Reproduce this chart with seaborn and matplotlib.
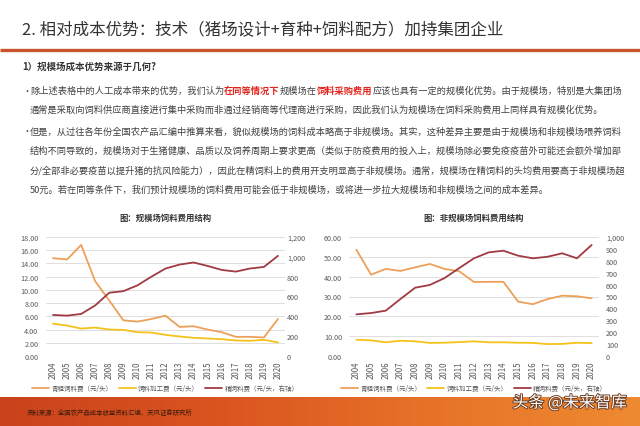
import matplotlib
matplotlib.use('Agg')
import matplotlib.pyplot as plt
import matplotlib.ticker as mtick
import matplotlib.patheffects as pe
from matplotlib.colors import LinearSegmentedColormap
from matplotlib.font_manager import FontProperties
import numpy as np
import seaborn as sns

# ---- data ----
years = ['2004', '2005', '2006', '2007', '2008', '2009', '2010', '2011', '2012',
         '2013', '2014', '2015', '2016', '2017', '2018', '2019', '2020']

# 规模场 (left chart)
large_rough = [14.8, 14.6, 16.8, 11.3, 8.4, 5.4, 5.2, 5.6, 6.1, 4.4, 4.5, 4.0, 3.6, 2.9, 2.9, 2.8, 5.6]
large_process = [4.9, 4.6, 4.15, 4.3, 4.0, 3.95, 3.6, 3.55, 3.2, 2.95, 2.75, 2.65, 2.55, 2.35, 2.3, 2.45, 2.05]
large_conc = [414, 407, 424, 510, 638, 654, 712, 800, 882, 922, 943, 908, 868, 851, 882, 898, 1010]

# 非规模场 (right chart)
small_rough = [53.6, 41.0, 43.9, 42.9, 44.7, 46.4, 43.9, 42.7, 37.3, 37.4, 37.4, 27.4, 26.1, 28.7, 30.4, 30.1, 29.1]
small_process = [8.2, 7.9, 6.9, 7.7, 7.4, 6.6, 6.7, 7.0, 7.4, 6.9, 6.9, 6.7, 6.6, 6.0, 6.1, 6.7, 6.5]
small_conc = [350, 361, 381, 479, 574, 597, 655, 739, 821, 871, 885, 843, 821, 834, 863, 821, 933]

series_names = ['青粗饲料费（元/头）', '饲料加工费（元/头）', '精饲料费（元/头，右轴）']
chart_titles = ['图：规模场饲料费用结构', '图：非规模场饲料费用结构']

large_left_ticks = [0, 2, 4, 6, 8, 10, 12, 14, 16, 18]
large_right_ticks = [0, 200, 400, 600, 800, 1000, 1200]
small_left_ticks = [0, 10, 20, 30, 40, 50, 60]
small_right_ticks = [0, 100, 200, 300, 400, 500, 600, 700, 800, 900, 1000]

page_title = '2. 相对成本优势：技术（猪场设计+育种+饲料配方）加持集团企业'
section_head = '1）规模场成本优势来源于几何?'
# each line: list of (text, highlighted)
bullet1 = [
    [('除上述表格中的人工成本带来的优势，我们认为', False), ('在同等情况下', True), ('规模场在', False),
     ('饲料采购费用', True), ('应该也具有一定的规模化优势。由于规模场，特别是大集团场', False)],
    [('通常是采取向饲料供应商直接进行集中采购而非通过经销商等代理商进行采购，因此我们认为规模场在饲料采购费用上同样具有规模化优势。', False)],
]
bullet2 = [
    [('但是，从过往各年份全国农产品汇编中推算来看，貌似规模场的饲料成本略高于非规模场。其实，这种差异主要是由于规模场和非规模场喂养饲料', False)],
    [('结构不同导致的，规模场对于生猪健康、品质以及饲养周期上要求更高（类似于防疫费用的投入上，规模场除必要免疫疫苗外可能还会额外增加部', False)],
    [('分/全部非必要疫苗以提升猪的抗风险能力），因此在精饲料上的费用开支明显高于非规模场。通常，规模场在精饲料的头均费用要高于非规模场超', False)],
    [('50元。若在同等条件下，我们预计规模场的饲料费用可能会低于非规模场，或将进一步拉大规模场和非规模场之间的成本差异。', False)],
]
source_note = '资料来源：全国农产品成本收益资料汇编、天风证券研究所'
watermark = '头条 @未来智库'

# ---- style ----
COLORS = ['#eca05a', '#f4c21a', '#a03a44']
TXT = '#404040'
RED = '#e3241c'
TICK = '#595959'

sns.set_style('white')
plt.rcParams['font.family'] = ['Noto Sans CJK SC', 'DejaVu Sans']

W, H = 640, 427
fig = plt.figure(figsize=(6.4, 4.27), dpi=100)
renderer = fig.canvas.get_renderer()

# page-level overlay in pixel coordinates
bg = fig.add_axes([0, 0, 1, 1], zorder=0)
grad = np.linspace(0, 1, 256).reshape(1, -1)
foot_cmap = LinearSegmentedColormap.from_list('foot', ['#c8431b', '#d9541f', '#e77228', '#ee8a31'])
bg.imshow(grad, cmap=foot_cmap, extent=(0, W, H, 398), aspect='auto')
bg.set_xlim(0, W)
bg.set_ylim(H, 0)
bg.axis('off')

bg.text(22, 30, page_title, fontsize=11.9, color='#333333', va='center', ha='left', fontweight='medium')
bg.plot([0, W], [51, 51], color='#c9532d', lw=2.4, solid_capstyle='butt')
bg.text(22, 67, section_head, fontsize=6.8, fontweight='bold', color='#333333', va='center')

BODY = 6.65
body_font = FontProperties(family=plt.rcParams['font.family'], size=BODY)


def text_w(s):
    w, _, _ = renderer.get_text_width_height_descent(s, body_font, ismath=False)
    return w


def write_line(x0, y, parts):
    # place each coloured run where it would fall inside the whole line
    prefix = ''
    for s, hl in parts:
        x = x0 + (text_w(prefix + s[0]) - text_w(s[0]) if prefix else 0)
        bg.text(x, y, s, va='center', ha='left', fontsize=BODY,
                color=RED if hl else TXT, fontweight='bold' if hl else 'normal')
        prefix += s


def write_bullet(y0, lines, step=19.3):
    bg.text(22, y0, '•', fontsize=6.5, color=TXT, va='center', ha='left')
    for i, parts in enumerate(lines):
        write_line(30, y0 + i * step, parts)


write_bullet(91, bullet1)
write_bullet(132, bullet2)


def draw_chart(x0, x1, rough, process, conc, lticks, rticks, title, lpad, rpad):
    ax = fig.add_axes([x0 / W, 1 - 357 / H, (x1 - x0) / W, (357 - 238) / H])
    ax.set_facecolor('none')
    ax2 = ax.twinx()
    sns.lineplot(x=years, y=rough, ax=ax, color=COLORS[0], lw=1.3, label=series_names[0], legend=False)
    sns.lineplot(x=years, y=process, ax=ax, color=COLORS[1], lw=1.3, label=series_names[1], legend=False)
    sns.lineplot(x=years, y=conc, ax=ax2, color=COLORS[2], lw=1.3, label=series_names[2], legend=False)

    ax.set_xlim(-0.5, len(years) - 0.5)
    ax.set_ylim(lticks[0], lticks[-1])
    ax.set_yticks(lticks)
    ax2.set_ylim(rticks[0], rticks[-1])
    ax2.set_yticks(rticks)
    ax.yaxis.set_major_formatter(mtick.StrMethodFormatter('{x:.2f}'))
    ax2.yaxis.set_major_formatter(mtick.StrMethodFormatter('{x:,.0f}'))

    ax.grid(False)
    ax2.grid(False)
    ax.yaxis.grid(True, color='#d9d9d9', lw=0.6)
    for a in (ax, ax2):
        for sp in a.spines.values():
            sp.set_visible(False)
        a.set_xlabel('')
        a.set_ylabel('')
    ax.tick_params(axis='x', rotation=90, length=0, labelsize=5.7, labelcolor=TICK, pad=3)
    ax.tick_params(axis='y', length=0, labelsize=5.2, labelcolor=TICK, pad=lpad)
    ax2.tick_params(axis='y', length=0, labelsize=5.2, labelcolor=TICK, pad=rpad)

    cx = (x0 + x1) / 2
    bg.text(cx, 218, title, ha='center', va='center', fontsize=6, fontweight='bold', color='#333333')

    h1, l1 = ax.get_legend_handles_labels()
    h2, l2 = ax2.get_legend_handles_labels()
    fig.legend(h1 + h2, l1 + l2, loc='center', bbox_to_anchor=(cx / W, 1 - 389 / H), ncol=3,
               frameon=False, prop=dict(size=4.7), handlelength=2.6, handletextpad=0.4,
               columnspacing=0.9, labelcolor=TICK)


draw_chart(46, 285, large_rough, large_process, large_conc,
           large_left_ticks, large_right_ticks, chart_titles[0], 5.5, 1.5)
draw_chart(349, 599, small_rough, small_process, small_conc,
           small_left_ticks, small_right_ticks, chart_titles[1], 5.0, 5.0)

bg.text(27, 413, source_note, fontsize=4.6, color='#3a1a0c', va='center', ha='left')
bg.text(627, 404, watermark, ha='right', va='center', fontsize=11.5, color='white',
        path_effects=[pe.withStroke(linewidth=1.3, foreground='#6a3a20')])

fig.savefig('out.png', dpi=100)
